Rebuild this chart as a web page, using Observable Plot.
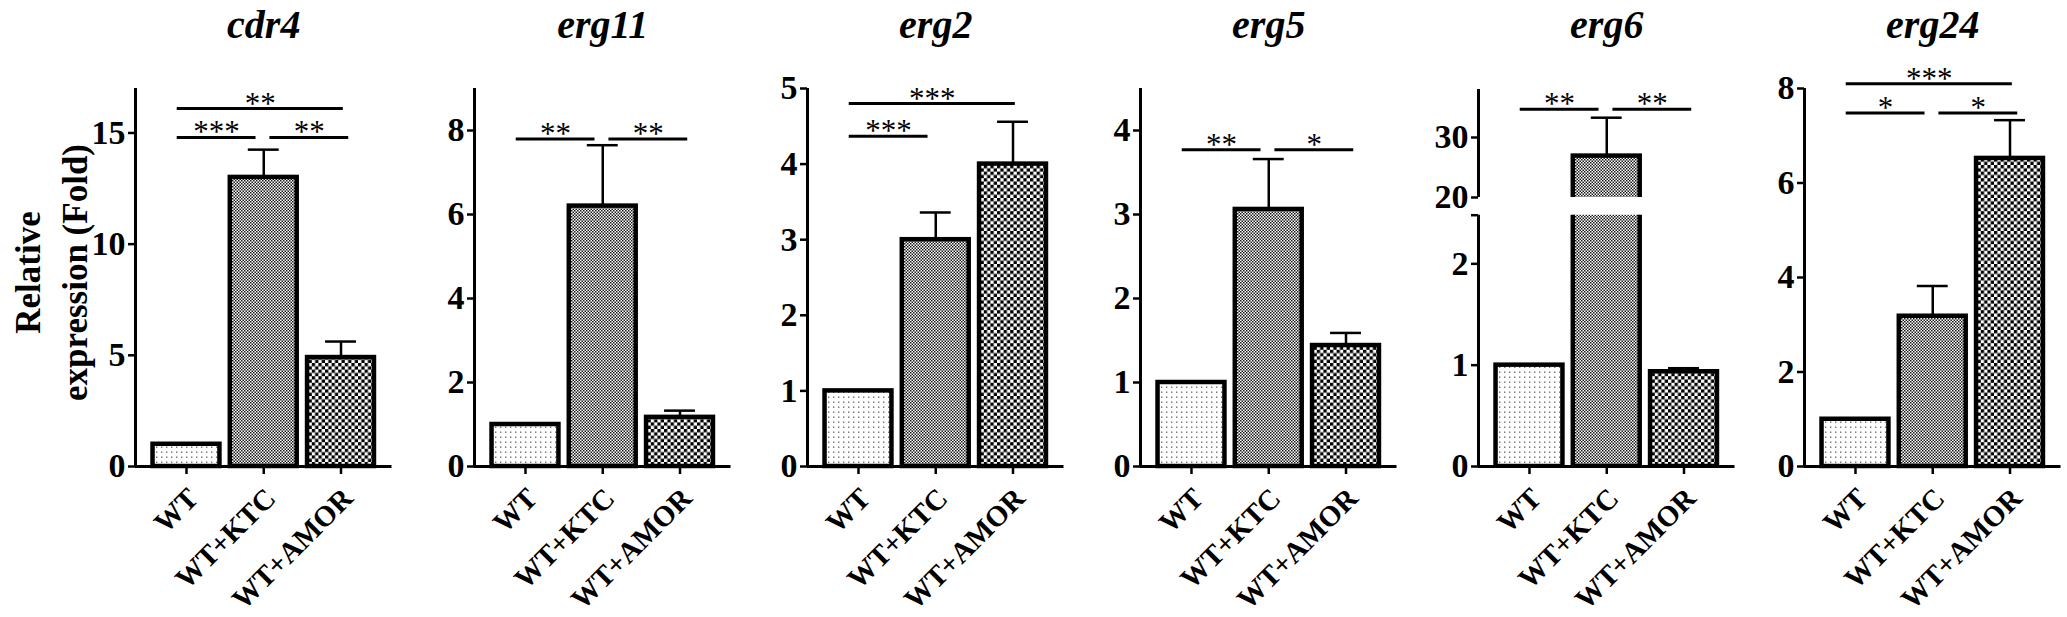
<!DOCTYPE html>
<html>
<head>
<meta charset="utf-8">
<script src="https://cdn.jsdelivr.net/npm/d3@7"></script>
<script src="https://cdn.jsdelivr.net/npm/@observablehq/plot@0.6"></script>
<style>
  html, body { margin: 0; padding: 0; background: #fff; }
  #chart { position: relative; width: 2067px; height: 617px; overflow: hidden; background: #fff; }
</style>
</head>
<body>
<svg width="0" height="0" style="position:absolute">
  <defs>
    <pattern id="pWT" width="5" height="5" patternUnits="userSpaceOnUse">
      <rect width="5" height="5" fill="#ffffff"/>
      <rect x="1" y="1.5" width="1.4" height="1.4" fill="#6e6e6e"/>
    </pattern>
    <pattern id="pKTC" width="3" height="3" patternUnits="userSpaceOnUse">
      <rect width="3" height="3" fill="#ffffff"/>
      <rect x="0" y="0" width="1.5" height="1.5" fill="#1a1a1a"/>
      <rect x="1.5" y="1.5" width="1.5" height="1.5" fill="#1a1a1a"/>
    </pattern>
    <pattern id="pAMOR" width="6.6" height="6.6" patternUnits="userSpaceOnUse">
      <rect width="6.6" height="6.6" fill="#ffffff"/>
      <rect x="0" y="0" width="3.3" height="3.3" fill="#000000"/>
      <rect x="3.3" y="3.3" width="3.3" height="3.3" fill="#000000"/>
    </pattern>
  </defs>
</svg>
<div id="chart"></div>
<script>
// ---------------- data ----------------
const groups = ["WT", "WT+KTC", "WT+AMOR"];
const genes = ["cdr4", "erg11", "erg2", "erg5", "erg6", "erg24"];

const cdr4Mean  = [1.0, 13.0, 4.9];
const cdr4Sd    = [0, 1.25, 0.72];
const erg11Mean = [1.0, 6.2, 1.17];
const erg11Sd   = [0, 1.45, 0.16];
const erg2Mean  = [1.0, 3.0, 4.0];
const erg2Sd    = [0, 0.36, 0.56];
const erg5Mean  = [1.0, 3.06, 1.44];
const erg5Sd    = [0, 0.6, 0.15];
const erg6Mean  = [1.0, 26.9, 0.935];
const erg6Sd    = [0, 6.4, 0.035];
const erg24Mean = [1.0, 3.18, 6.52];
const erg24Sd   = [0, 0.64, 0.81];

// significance brackets: [from group, to group, bracket level, label]
const cdr4Sig  = [[0, 1, 14.8, "***"], [1, 2, 14.8, "**"], [0, 2, 16.1, "**"]];
const erg11Sig = [[0, 1, 7.8, "**"], [1, 2, 7.8, "**"]];
const erg2Sig  = [[0, 1, 4.37, "***"], [0, 2, 4.8, "***"]];
const erg5Sig  = [[0, 1, 3.77, "**"], [1, 2, 3.77, "*"]];
const erg6Sig  = [[0, 1, 34.7, "**"], [1, 2, 34.7, "**"]];
const erg24Sig = [[0, 1, 7.48, "*"], [1, 2, 7.48, "*"], [0, 2, 8.1, "***"]];

// y axis segments: [domain, tick values] (erg6 has a broken axis)
const cdr4Y  = [[[0, 17], [0, 5, 10, 15]]];
const erg11Y = [[[0, 9], [0, 2, 4, 6, 8]]];
const erg2Y  = [[[0, 5], [0, 1, 2, 3, 4, 5]]];
const erg5Y  = [[[0, 4.5], [0, 1, 2, 3, 4]]];
const erg6Y  = [[[0, 2.48], [0, 1, 2]], [[20, 38], [20, 30]]];
const erg24Y = [[[0, 8], [0, 2, 4, 6, 8]]];

const yLabel = "Relative\nexpression (Fold)";

// ---------------- layout / style ----------------
const panels = [
  {gene: genes[0], mean: cdr4Mean,  sd: cdr4Sd,  sig: cdr4Sig,  y: cdr4Y},
  {gene: genes[1], mean: erg11Mean, sd: erg11Sd, sig: erg11Sig, y: erg11Y},
  {gene: genes[2], mean: erg2Mean,  sd: erg2Sd,  sig: erg2Sig,  y: erg2Y},
  {gene: genes[3], mean: erg5Mean,  sd: erg5Sd,  sig: erg5Sig,  y: erg5Y},
  {gene: genes[4], mean: erg6Mean,  sd: erg6Sd,  sig: erg6Sig,  y: erg6Y},
  {gene: genes[5], mean: erg24Mean, sd: erg24Sd, sig: erg24Sig, y: erg24Y}
];
const axisLeft = [135, 474, 806.7, 1140, 1477.7, 1804.3];
const segPx = {default: [[88, 466]], erg6: [[214.7, 466], [89, 197]]};
const FRAME_W = 256.5, ML = 140, MR = 30, H = 617;
const X_DOMAIN = [-0.66, 2.66];
const HALF_BAR = 0.433, HALF_CAP = 0.2;
const patterns = ["url(#pWT)", "url(#pKTC)", "url(#pAMOR)"];
const FONT = "'Liberation Serif', 'Times New Roman', Times, serif";

const chart = document.getElementById("chart");

panels.forEach((p, k) => {
  const rows = groups.map((g, i) => ({i, g, v: p.mean[i], sd: p.sd[i]}));
  const px = segPx[p.gene] || segPx.default;
  const broken = p.y.length > 1;
  p.y.forEach(([dom, ticks], s) => {
    const [top, bot] = px[s];
    const isBottom = s === 0;
    const isTop = s === p.y.length - 1;
    const inSeg = (y) => y >= dom[0] && (isTop || y <= dom[1]);
    const errRows = rows.filter(d => d.sd > 0 && inSeg(d.v + d.sd));
    const sigRows = isTop ? p.sig.map(([a, b, lvl, lab]) => {
      const x1 = a + (a === 0 ? -0.12 : 0.08);
      const x2 = b + (b - a === 2 ? 0.03 : (b === 2 ? 0.1 : -0.1));
      return {x1, x2, y: lvl, label: lab, xm: (x1 + x2) / 2};
    }) : [];
    const yTicks = broken && isBottom ? [...ticks, dom[1]] : ticks;

    const marks = [
      Plot.rect(rows, {
        x1: d => d.i - HALF_BAR, x2: d => d.i + HALF_BAR,
        y1: 0, y2: "v",
        fill: d => patterns[d.i],
        stroke: "black", strokeWidth: 4.5, clip: broken
      }),
      Plot.ruleX(errRows, {x: "i", y1: "v", y2: d => d.v + d.sd, stroke: "black", strokeWidth: 2.5}),
      Plot.ruleY(errRows, {y: d => d.v + d.sd, x1: d => d.i - HALF_CAP, x2: d => d.i + HALF_CAP, stroke: "black", strokeWidth: 2.5}),
      Plot.ruleX([X_DOMAIN[0]], {stroke: "black", strokeWidth: 3}),
      Plot.axisY({
        ticks: yTicks,
        tickFormat: d => (broken && isBottom && d === dom[1]) ? "" : String(d),
        tickSize: 7, tickPadding: 3, fontSize: 34, fontWeight: "bold", strokeWidth: 2.5,
        label: null
      })
    ];
    if (isBottom) {
      marks.push(
        Plot.ruleY([0], {stroke: "black", strokeWidth: 3}),
        Plot.axisX({ticks: [0, 1, 2], tickFormat: () => "", tickSize: 8, strokeWidth: 2.5, label: null}),
        Plot.text(rows, {x: "i", text: "g", frameAnchor: "bottom", rotate: -45,
          textAnchor: "end", lineAnchor: "top", dx: -1, dy: 19,
          fontSize: 29, fontWeight: "bold", fill: "black"})
      );
    } else {
      marks.push(Plot.axisX({ticks: [], label: null}));
    }
    if (isTop) {
      marks.push(
        Plot.ruleY(sigRows, {y: "y", x1: "x1", x2: "x2", stroke: "black", strokeWidth: 3}),
        Plot.text(sigRows, {x: "xm", y: "y", text: "label", lineAnchor: "bottom", dy: 5,
          fontSize: 31, fontWeight: "normal", fill: "black"}),
        Plot.text([p.gene], {x: 1, frameAnchor: "top", dy: 37 - top, text: d => d,
          lineAnchor: "bottom", fontSize: 40, fontWeight: "bold", fontStyle: "italic", fill: "black"})
      );
    }
    if (k === 0) {
      marks.push(Plot.text([yLabel], {frameAnchor: "left", rotate: -90, dx: -129, dy: -5,
        text: d => d, textAnchor: "middle", lineAnchor: "top", lineHeight: 1.34,
        fontSize: 35, fontWeight: "bold", fill: "black"}));
    }

    const svg = Plot.plot({
      width: ML + FRAME_W + MR,
      height: H,
      marginLeft: ML, marginRight: MR,
      marginTop: top, marginBottom: H - bot,
      x: {type: "linear", domain: X_DOMAIN, label: null},
      y: {type: "linear", domain: dom, label: null},
      color: {type: "identity"},
      style: {
        position: "absolute", left: (axisLeft[k] - ML) + "px", top: "0px",
        background: "transparent", overflow: "visible", maxWidth: "none",
        fontFamily: FONT, fontWeight: "bold", color: "black"
      },
      marks
    });
    chart.appendChild(svg);
  });
});
</script>
</body>
</html>
